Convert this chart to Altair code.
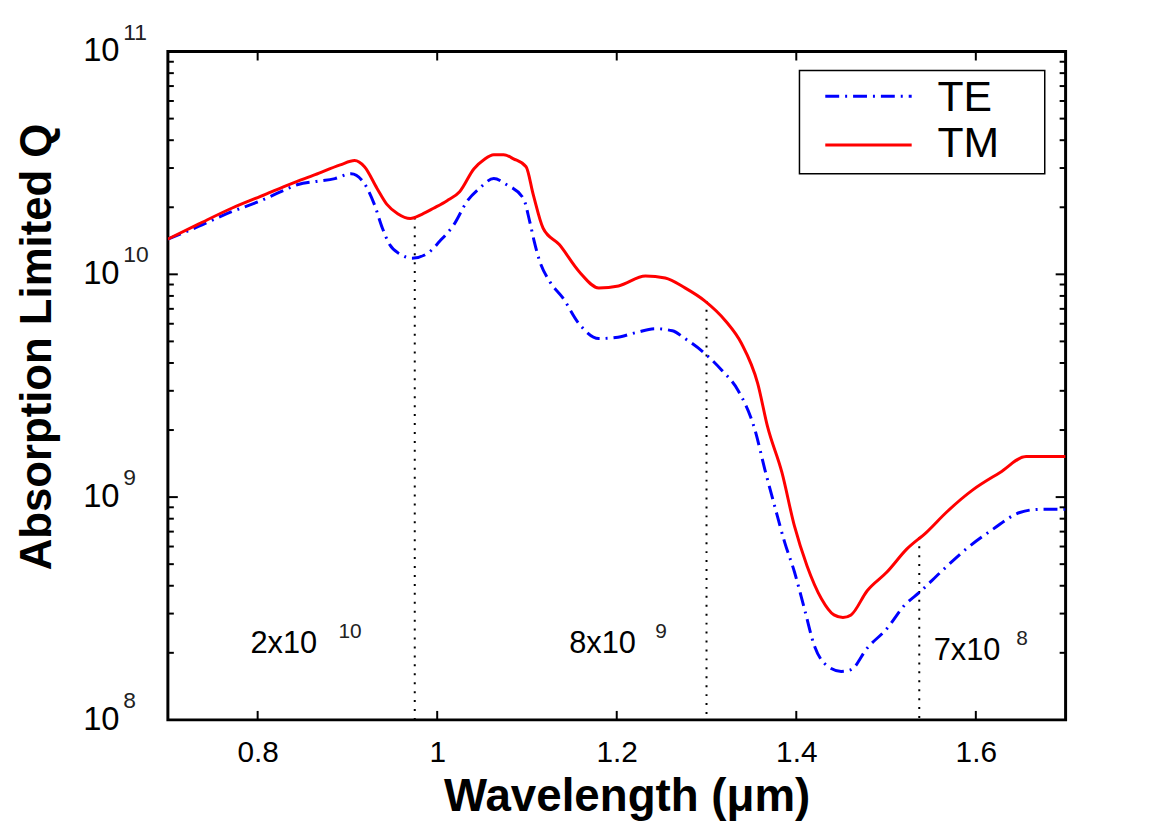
import altair as alt
import pandas as pd

# ---------------- data ----------------
TM_WL = [0.700, 0.734, 0.771, 0.808, 0.837, 0.864, 0.892, 0.908, 0.919, 0.933,
         0.944, 0.956, 0.970, 0.983, 0.996, 1.011, 1.025, 1.041, 1.052, 1.063,
         1.074, 1.085, 1.099, 1.107, 1.118, 1.136, 1.158, 1.180, 1.202, 1.232,
         1.254, 1.276, 1.298, 1.321, 1.339, 1.357, 1.368, 1.384, 1.398, 1.412,
         1.428, 1.442, 1.452, 1.461, 1.479, 1.501, 1.523, 1.545, 1.567, 1.597, 1.627,
         1.656, 1.700]
TM_Q = [1.44e10, 1.68e10, 1.98e10, 2.28e10, 2.55e10, 2.80e10, 3.10e10, 3.24e10, 3.04e10, 2.43e10,
        2.06e10, 1.87e10, 1.78e10, 1.86e10, 1.98e10, 2.14e10, 2.35e10, 2.98e10, 3.27e10, 3.44e10,
        3.44e10, 3.30e10, 3.04e10, 2.28e10, 1.61e10, 1.36e10, 1.03e10, 8.69e9, 8.87e9, 9.83e9,
        9.63e9, 8.69e9, 7.60e9, 6.19e9, 4.89e9, 3.24e9, 2.07e9, 1.29e9, 7.40e8, 4.91e8,
        3.50e8, 2.96e8, 2.88e8, 2.96e8, 3.80e8, 4.61e8, 5.84e8, 6.95e8, 8.53e8, 1.08e9, 1.29e9,
        1.52e9, 1.52e9]

TE_WL = [0.700, 0.734, 0.771, 0.801, 0.826, 0.845, 0.864, 0.886, 0.904, 0.919,
         0.930, 0.939, 0.947, 0.959, 0.972, 0.989, 1.003, 1.019, 1.033, 1.047,
         1.063, 1.077, 1.096, 1.103, 1.108, 1.114, 1.125, 1.140, 1.158, 1.180,
         1.199, 1.221, 1.243, 1.262, 1.276, 1.298, 1.317, 1.335, 1.354, 1.365,
         1.376, 1.387, 1.398, 1.409, 1.420, 1.435, 1.450, 1.461, 1.479, 1.501,
         1.520, 1.538, 1.561, 1.589, 1.619, 1.649, 1.671, 1.700]
TE_Q = [1.44e10, 1.64e10, 1.91e10, 2.12e10, 2.35e10, 2.53e10, 2.61e10, 2.69e10, 2.83e10, 2.55e10,
        2.06e10, 1.61e10, 1.36e10, 1.23e10, 1.18e10, 1.24e10, 1.41e10, 1.68e10, 2.12e10, 2.43e10,
        2.69e10, 2.53e10, 2.19e10, 1.73e10, 1.41e10, 1.15e10, 9.33e9, 7.84e9, 6.00e9, 5.15e9,
        5.20e9, 5.47e9, 5.70e9, 5.58e9, 5.15e9, 4.42e9, 3.71e9, 3.02e9, 2.00e9, 1.33e9,
        9.08e8, 6.28e8, 4.61e8, 3.16e8, 2.16e8, 1.74e8, 1.65e8, 1.68e8, 2.10e8, 2.57e8,
        3.25e8, 3.76e8, 4.61e8, 5.84e8, 7.17e8, 8.53e8, 8.81e8, 8.81e8]

SERIES = ["TE", "TM"]
COLORS = ["#0000ff", "#ff0000"]

X_TICKS = [0.8, 1.0, 1.2, 1.4, 1.6]
Y_DECADES = [1e8, 1e9, 1e10, 1e11]
Y_EXPONENTS = ["8", "9", "10", "11"]
Y_MINOR = [k * 10 ** n for n in (8, 9, 10) for k in range(2, 10)]

DROP_WL = [0.975, 1.300, 1.537]
DROP_Q = [1.8e10, 7.6e9, 6.6e8]

ANN_BASE = ["2x10", "8x10", "7x10"]
ANN_BASE_WL = [0.792, 1.147, 1.553]
ANN_SUP = ["10", "9", "8"]
ANN_SUP_WL = [0.890, 1.243, 1.645]
ANN_Q = [2.0e8, 2.0e8, 1.85e8]

# ---------------- styling ----------------
W, H = 904, 673
FONT = "Liberation Sans"
TE_DASH = [14, 6, 2, 6]

xscale = alt.Scale(domain=[0.7, 1.7], nice=False, zero=False)
yscale = alt.Scale(type="log", domain=[1e8, 1e11], nice=False)

xaxis = alt.Axis(values=X_TICKS, format="~g", labelFontSize=30, labelFont=FONT,
                 labelColor="black", ticks=False, domain=False, grid=False,
                 labelPadding=18, labelFlush=False,
                 title="Wavelength (μm)", titleFontSize=46, titleFont=FONT,
                 titleFontWeight="bold", titleColor="black", titleX=462, titleY=91,
                 titleAlign="center", titleBaseline="alphabetic")
yaxis = alt.Axis(labels=False, ticks=False, domain=False, grid=False,
                 title="Absorption Limited Q", titleFontSize=44, titleFont=FONT,
                 titleFontWeight="bold", titleColor="black", titleX=-118, titleY=297,
                 titleAngle=270, titleAlign="center", titleBaseline="alphabetic")


def X(field="wl"):
    return alt.X(f"{field}:Q", scale=xscale, axis=xaxis)


def Y(field="q"):
    return alt.Y(f"{field}:Q", scale=yscale, axis=yaxis)


te_df = pd.DataFrame({"wl": TE_WL, "q": TE_Q})
tm_df = pd.DataFrame({"wl": TM_WL, "q": TM_Q})

drops = alt.Chart(pd.DataFrame({"wl": DROP_WL, "q": DROP_Q})).mark_rule(
    color="black", strokeWidth=2, strokeDash=[2, 7]
).encode(x=X(), y=Y(), y2=alt.value(H))

te_line = alt.Chart(te_df).mark_line(
    clip=True, color=COLORS[0], strokeWidth=3, strokeDash=TE_DASH, interpolate="monotone"
).encode(x=X(), y=Y())

tm_line = alt.Chart(tm_df).mark_line(
    clip=True, color=COLORS[1], strokeWidth=3, interpolate="monotone"
).encode(x=X(), y=Y())

minor_df = pd.DataFrame({"q": Y_MINOR})
major_df = pd.DataFrame({"q": Y_DECADES[1:3]})
xt_df = pd.DataFrame({"wl": X_TICKS})

tick_style = dict(color="black", strokeWidth=2)
ticks = [
    alt.Chart(minor_df).mark_rule(**tick_style).encode(y=Y(), x=alt.value(0), x2=alt.value(6)),
    alt.Chart(minor_df).mark_rule(**tick_style).encode(y=Y(), x=alt.value(W), x2=alt.value(W - 6)),
    alt.Chart(major_df).mark_rule(**tick_style).encode(y=Y(), x=alt.value(0), x2=alt.value(10)),
    alt.Chart(major_df).mark_rule(**tick_style).encode(y=Y(), x=alt.value(W), x2=alt.value(W - 10)),
    alt.Chart(xt_df).mark_rule(**tick_style).encode(x=X(), y=alt.value(H), y2=alt.value(H - 9)),
    alt.Chart(xt_df).mark_rule(**tick_style).encode(x=X(), y=alt.value(0), y2=alt.value(9)),
]

ylab_df = pd.DataFrame({"q": Y_DECADES, "exp": Y_EXPONENTS, "base": ["10"] * 4})
ylab_base = alt.Chart(ylab_df).mark_text(
    font=FONT, fontSize=33, color="black", align="center", baseline="middle"
).encode(y=Y(), x=alt.value(-67), text="base:N")
ylab_sup = alt.Chart(ylab_df).mark_text(
    font=FONT, fontSize=23, color="#222222", align="left", baseline="middle", dy=-19
).encode(y=Y(), x=alt.value(-45), text="exp:N")

ann_base = alt.Chart(pd.DataFrame({"wl": ANN_BASE_WL, "q": ANN_Q, "t": ANN_BASE})).mark_text(
    font=FONT, fontSize=31, color="black", align="left", baseline="alphabetic"
).encode(x=X(), y=Y(), text="t:N")
ann_sup = alt.Chart(pd.DataFrame({"wl": ANN_SUP_WL, "q": ANN_Q, "t": ANN_SUP})).mark_text(
    font=FONT, fontSize=21, color="#222222", align="left", baseline="alphabetic", dy=-15
).encode(x=X(), y=Y(), text="t:N")

# ---------------- legend box ----------------
one = pd.DataFrame({"a": [0]})
leg_box = alt.Chart(one).mark_rect(fill="white", stroke="black", strokeWidth=1.5).encode(
    x=alt.value(636), x2=alt.value(883), y=alt.value(19), y2=alt.value(123))
leg_te = alt.Chart(one).mark_rule(color=COLORS[0], strokeWidth=3, strokeDash=TE_DASH).encode(
    x=alt.value(662), x2=alt.value(749), y=alt.value(45))
leg_tm = alt.Chart(one).mark_rule(color=COLORS[1], strokeWidth=3).encode(
    x=alt.value(662), x2=alt.value(749), y=alt.value(94))
leg_text_te = alt.Chart(pd.DataFrame({"label": [SERIES[0]]})).mark_text(
    font=FONT, fontSize=43, color="black", align="left", baseline="middle"
).encode(x=alt.value(775), y=alt.value(47), text="label:N")
leg_text_tm = alt.Chart(pd.DataFrame({"label": [SERIES[1]]})).mark_text(
    font=FONT, fontSize=43, color="black", align="left", baseline="middle"
).encode(x=alt.value(775), y=alt.value(93), text="label:N")

chart = alt.layer(
    drops, te_line, tm_line, *ticks, ylab_base, ylab_sup, ann_base, ann_sup,
    leg_box, leg_te, leg_tm, leg_text_te, leg_text_tm
).properties(
    width=W, height=H,
    padding={"left": 161, "top": 41, "right": 86, "bottom": 103},
    autosize=alt.AutoSizeParams(type="none"),
    background="white",
).configure_view(stroke="black", strokeWidth=3)

chart.save("out.html", embed_options={"renderer": "svg", "actions": False})
